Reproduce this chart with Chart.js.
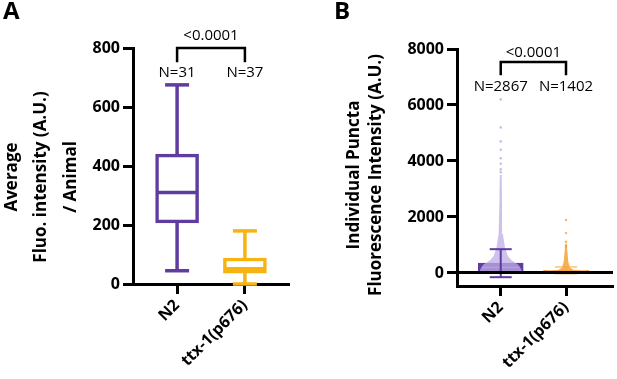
<!DOCTYPE html>
<html>
<head>
<meta charset="utf-8">
<script src="https://cdn.jsdelivr.net/npm/chart.js@4.4.1/dist/chart.umd.min.js"></script>
<style>
  body { margin: 0; background: #fff; }
  #wrap { position: relative; width: 617px; height: 379px; }
  #chartA { position: absolute; left: 0; top: 0; }
  #chartB { position: absolute; left: 310px; top: 0; }
</style>
</head>
<body>
<div id="wrap">
  <canvas id="chartA" width="310" height="379"></canvas>
  <canvas id="chartB" width="307" height="379"></canvas>
</div>
<script>
// --- data ---
const groups = ['N2', 'ttx-1(p676)'];
const pValue = '<0.0001';

// panel A: box plot, average intensity per animal
const countsA = ['N=31', 'N=37'];
const boxMin = [45, 0];
const boxQ1 = [207, 37];
const boxMedian = [310, 52];
const boxQ3 = [440, 88];
const boxMax = [675, 180];
const ticksA = [0, 200, 400, 600, 800];

// panel B: mean +/- SD with individual puncta
const countsB = ['N=2867', 'N=1402'];
const punctaMean = [350, 95];
const punctaSD = [500, 120];
const ticksB = [0, 2000, 4000, 6000, 8000];
// outline of the dense cloud of points (value, half width in category units)
const swarmLevelsN2 = [0, 150, 290, 450, 600, 900, 1400, 2500, 3500];
const swarmWidthN2 = [0.33, 0.31, 0.27, 0.17, 0.11, 0.065, 0.032, 0.02, 0.014];
const swarmLevelsTtx = [0, 60, 110, 200, 400, 800, 1000];
const swarmWidthTtx = [0.32, 0.3, 0.12, 0.06, 0.035, 0.02, 0.012];
// isolated points above the cloud
const sparseN2 = [6200, 5200, 4700, 4400, 4100, 3900, 3700, 3600];
const sparseTtx = [1890, 1430, 1110, 1000, 930];

const purple = '#5f3c9f';
const lavender = 'rgba(190,172,228,0.75)';
const orangeA = '#f7b30f';
const orangeB = '#f4a132';
const orangeLight = 'rgba(246,170,70,0.7)';
const colorsA = [purple, orangeA];

Chart.defaults.font.family = "'Open Sans', sans-serif";
Chart.defaults.color = '#000';

const boldFont = { family: "'Open Sans', sans-serif", size: 16, weight: 'bold' };

function line(ctx, x1, y1, x2, y2) {
  ctx.beginPath();
  ctx.moveTo(x1, y1);
  ctx.lineTo(x2, y2);
  ctx.stroke();
}

// y title, bracket, N labels and panel letter
function annotate(chart, cfg) {
  const { ctx, scales: { x, y } } = chart;
  ctx.save();
  ctx.fillStyle = '#000';
  ctx.strokeStyle = '#000';

  ctx.font = "bold 24px 'Open Sans', sans-serif";
  ctx.textAlign = 'left';
  ctx.textBaseline = 'top';
  ctx.fillText(cfg.letter, cfg.letterX, 0);

  ctx.font = "bold 17px 'Open Sans', sans-serif";
  ctx.textAlign = 'center';
  ctx.textBaseline = 'middle';
  cfg.title.forEach((t, i) => {
    ctx.save();
    ctx.translate(cfg.titleX[i], cfg.titleY);
    ctx.rotate(-Math.PI / 2);
    ctx.fillText(t, 0, 0);
    ctx.restore();
  });

  const xa = x.getPixelForValue(0), xb = x.getPixelForValue(1);
  const yTop = y.getPixelForValue(cfg.bracket), yLeg = y.getPixelForValue(cfg.bracketLeg);
  ctx.lineWidth = 2.5;
  ctx.beginPath();
  ctx.moveTo(xa, yLeg);
  ctx.lineTo(xa, yTop);
  ctx.lineTo(xb, yTop);
  ctx.lineTo(xb, yLeg);
  ctx.stroke();

  ctx.font = "15px 'Open Sans', sans-serif";
  ctx.fillText(pValue, (xa + xb) / 2, y.getPixelForValue(cfg.pText));
  cfg.counts.forEach((n, i) => ctx.fillText(n, x.getPixelForValue(i), y.getPixelForValue(cfg.nText)));
  ctx.restore();
}

function axisOptions(o) {
  return {
    x: {
      type: 'linear', min: o.xMin, max: o.xMax, offset: false,
      afterBuildTicks: s => { s.ticks = groups.map((g, i) => ({ value: i })); },
      afterFit: s => { s.height = o.xHeight; },
      ticks: { callback: v => groups[v], minRotation: 45, maxRotation: 45, font: boldFont, padding: 2, color: '#000' },
      grid: { offset: false, drawOnChartArea: false, tickLength: 10, tickWidth: 3, tickColor: '#000' },
      border: { color: '#000', width: 3 }
    },
    y: {
      min: o.yMin, max: o.yMax,
      afterBuildTicks: s => { s.ticks = o.ticks.map(v => ({ value: v })); },
      afterFit: s => { s.width = o.yWidth; },
      ticks: { font: boldFont, padding: 3, color: '#000', callback: v => String(v) },
      grid: o.yGrid,
      // border after the grid layer so its position is already known
      border: { color: '#000', width: 3, z: 2 }
    }
  };
}

// ---- panel A ----
const boxPlugin = {
  id: 'boxWhiskers',
  afterDatasetsDraw(chart) {
    const { ctx, scales: { x, y } } = chart;
    ctx.save();
    ctx.lineWidth = 3.5;
    groups.forEach((g, i) => {
      const cx = x.getPixelForValue(i);
      ctx.strokeStyle = colorsA[i];
      line(ctx, cx, y.getPixelForValue(boxQ3[i]), cx, y.getPixelForValue(boxMax[i]));
      line(ctx, cx, y.getPixelForValue(boxQ1[i]), cx, y.getPixelForValue(boxMin[i]));
      line(ctx, cx - 12, y.getPixelForValue(boxMax[i]), cx + 12, y.getPixelForValue(boxMax[i]));
      line(ctx, cx - 12, y.getPixelForValue(boxMin[i]), cx + 12, y.getPixelForValue(boxMin[i]));
      line(ctx, cx - 20, y.getPixelForValue(boxMedian[i]), cx + 20, y.getPixelForValue(boxMedian[i]));
    });
    ctx.restore();
  },
  afterDraw(chart) {
    annotate(chart, {
      letter: 'A', letterX: 3,
      title: ['Average', 'Fluo. intensity (A.U.)', '/ Animal'],
      titleX: [12, 41, 71], titleY: 177,
      bracket: 800, bracketLeg: 752, pText: 842, nText: 715,
      counts: countsA
    });
  }
};

new Chart(document.getElementById('chartA'), {
  type: 'bar',
  data: {
    datasets: [{
      data: groups.map((g, i) => ({ x: i, y: [boxQ1[i], boxQ3[i]] })),
      backgroundColor: '#fff',
      borderColor: colorsA,
      borderWidth: 3.5,
      borderSkipped: false,
      barThickness: 43
    }]
  },
  options: {
    responsive: false,
    animation: false,
    events: [],
    layout: { padding: { top: 48, right: 21, left: 0, bottom: 0 } },
    plugins: { legend: { display: false }, tooltip: { enabled: false } },
    scales: axisOptions({
      xMin: -0.65, xMax: 1.65, xHeight: 95,
      yMin: 0, yMax: 800, yWidth: 133, ticks: ticksA,
      yGrid: { drawOnChartArea: false, tickLength: 10, tickWidth: 3, tickColor: '#000' }
    })
  },
  plugins: [boxPlugin]
});

// ---- panel B ----
function swarmShape(center, levels, widths) {
  const right = levels.map((v, i) => ({ x: center + widths[i], y: v }));
  const left = levels.map((v, i) => ({ x: center - widths[i], y: v })).reverse();
  return right.concat(left);
}

const errorPlugin = {
  id: 'errorBars',
  afterDatasetsDraw(chart) {
    const { ctx, scales: { x, y } } = chart;
    const styles = [{ c: purple, w: 2 }, { c: orangeLight, w: 1.5 }];
    ctx.save();
    groups.forEach((g, i) => {
      const cx = x.getPixelForValue(i);
      const hi = y.getPixelForValue(punctaMean[i] + punctaSD[i]);
      const lo = y.getPixelForValue(punctaMean[i] - punctaSD[i]);
      ctx.strokeStyle = styles[i].c;
      ctx.lineWidth = styles[i].w;
      line(ctx, cx, hi, cx, lo);
      line(ctx, cx - 11, hi, cx + 11, hi);
      line(ctx, cx - 11, lo, cx + 11, lo);
    });
    ctx.restore();
  },
  afterDraw(chart) {
    annotate(chart, {
      letter: 'B', letterX: 24,
      title: ['Individual Puncta', 'Fluorescence Intensity (A.U.)'],
      titleX: [44, 66], titleY: 175,
      bracket: 7540, bracketLeg: 7060, pText: 7860, nText: 6640,
      counts: countsB
    });
  }
};

new Chart(document.getElementById('chartB'), {
  type: 'bar',
  data: {
    datasets: [
      {
        type: 'bar',
        data: groups.map((g, i) => ({ x: i, y: punctaMean[i] })),
        backgroundColor: ['rgba(200,185,235,0.5)', orangeLight],
        borderColor: [purple, orangeB],
        borderWidth: [4, 2],
        borderSkipped: false,
        barThickness: 45,
        order: 3
      },
      {
        type: 'line',
        data: swarmShape(0, swarmLevelsN2, swarmWidthN2),
        borderWidth: 0,
        backgroundColor: lavender,
        fill: 'shape',
        pointRadius: 0,
        tension: 0,
        order: 1
      },
      {
        type: 'line',
        data: swarmShape(1, swarmLevelsTtx, swarmWidthTtx),
        borderWidth: 0,
        backgroundColor: 'rgba(244,161,50,0.85)',
        fill: 'shape',
        pointRadius: 0,
        tension: 0,
        order: 1
      },
      {
        type: 'scatter',
        data: sparseN2.map(v => ({ x: 0, y: v })),
        pointRadius: 1.3,
        pointBorderWidth: 0,
        backgroundColor: 'rgba(190,172,228,0.8)',
        order: 0
      },
      {
        type: 'scatter',
        data: sparseTtx.map(v => ({ x: 1, y: v })),
        pointRadius: 1.3,
        pointBorderWidth: 0,
        backgroundColor: 'rgba(244,161,50,0.7)',
        order: 0
      }
    ]
  },
  options: {
    responsive: false,
    animation: false,
    events: [],
    layout: { padding: { top: 49, right: 0, left: 0, bottom: 0 } },
    plugins: { legend: { display: false }, tooltip: { enabled: false } },
    scales: axisOptions({
      xMin: -0.67, xMax: 1.72, xHeight: 93,
      yMin: -465, yMax: 8000, yWidth: 147, ticks: ticksB,
      yGrid: {
        drawOnChartArea: true, z: 1,
        color: c => (c.tick && c.tick.value === 0 ? '#000' : 'rgba(0,0,0,0)'),
        lineWidth: 3, tickLength: 10, tickWidth: 3, tickColor: '#000'
      }
    })
  },
  plugins: [errorPlugin]
});
</script>
</body>
</html>
